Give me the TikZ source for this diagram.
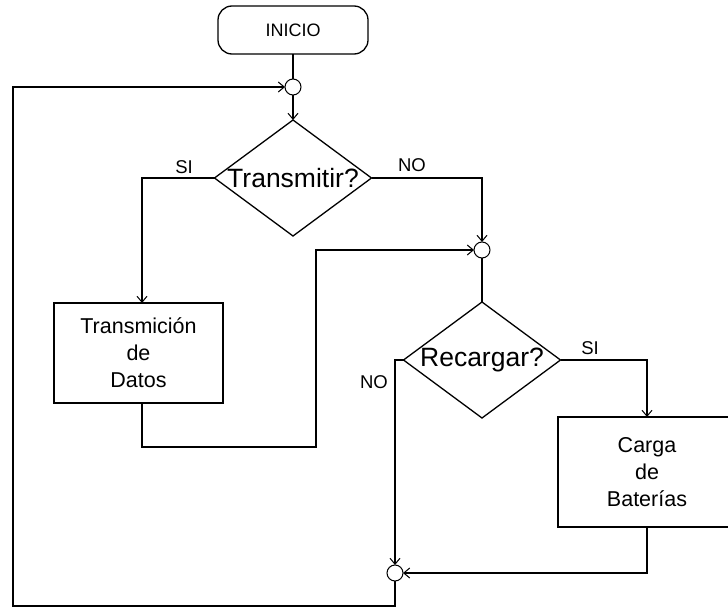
\documentclass[tikz,border=0pt]{standalone}
\usepackage{fontspec}
\setmainfont{Liberation Sans}
\usetikzlibrary{shapes.geometric,arrows.meta,calc}

\tikzset{
  every node/.style={inner sep=0pt, outer sep=0pt},
  line/.style={draw=black, line width=1.3pt},
  arr/.style={line, -{Straight Barb[length=6pt,width=10pt,line width=1pt]}},
  startbox/.style={line, rectangle, rounded corners=14pt, minimum width=150pt, minimum height=48pt, font=\fontsize{18}{20}\selectfont},
  procbox/.style={line, rectangle, align=center, font=\fontsize{21.5}{27}\selectfont},
  decision/.style={line, diamond, minimum width=157pt, minimum height=116pt},
  junction/.style={line, circle, line width=1pt, minimum size=16pt},
  lbl/.style={font=\fontsize{18.5}{20}\selectfont},
  qtext/.style={font=\fontsize{26.5}{30}\selectfont}
}

\begin{document}
\begin{tikzpicture}[x=1pt, y=-1pt]
  \useasboundingbox (0,0) rectangle (728,607);
  \clip (0,0) rectangle (728,607);

  % start and the first merge point
  \node[startbox] (ini) at (293,30) {INICIO};
  \node[junction] (j1) at (293,87) {};

  % first decision
  \node[decision, label={[qtext]center:Transmitir?}] (d1) at (293,178) {};

  % data transmission block
  \node[procbox, minimum width=169pt, minimum height=100pt] (tx) at (138.5,353) {Transmición\\de\\Datos};

  % second merge point and second decision
  \node[junction] (j2) at (482,250) {};
  \node[decision, label={[qtext]center:Recargar?}] (d2) at (482,360) {};

  % battery charging block
  \node[procbox, minimum width=178pt, minimum height=110pt] (cb) at (647,472) {Carga\\de\\Baterías};

  % final merge point
  \node[junction] (j3) at (395,573) {};

  % bend points of the connectors
  \coordinate (c1) at (142,178);
  \coordinate (c2) at (316,447);
  \coordinate (c5) at (13,606);

  % connectors
  \draw[line] (ini.south) -- (j1.north);
  \draw[arr] (j1.south) -- (d1.north);

  \draw[arr] (d1.west) -- (c1) -- (c1 |- tx.north);
  \draw[arr] (d1.east) -| (j2.north);

  \draw[arr] (c1 |- tx.south) |- (c2) |- (j2.west);
  \draw[line] (j2.south) -- (d2.north);

  \draw[arr] (d2.east) -| (cb.north);
  \draw[arr] (d2.west) -- (j3.north |- d2.west) -- (j3.north);

  \draw[arr] (cb.south) |- (j3.east);
  \draw[arr] (j3.south) |- (c5) |- (j1.west);

  % branch labels
  \node[lbl] (l1) at (184,167) {SI};
  \node[lbl] (l2) at (412,165) {NO};
  \node[lbl] (l3) at (590,348) {SI};
  \node[lbl] (l4) at (374,382) {NO};
\end{tikzpicture}
\end{document}
